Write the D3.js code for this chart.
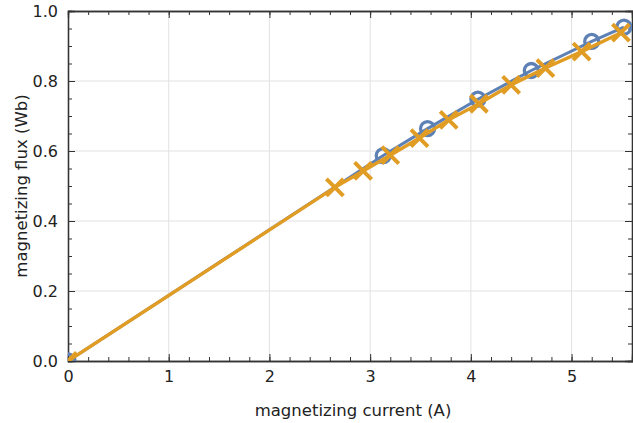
<!DOCTYPE html>
<html>
<head>
<meta charset="utf-8">
<script src="https://cdn.jsdelivr.net/npm/d3@7"></script>
<style>
  body { margin: 0; background: #fff; }
  svg { display: block; font-family: "DejaVu Sans", sans-serif; }
</style>
</head>
<body>
<div id="chart"></div>
<script>
var width = 633,
    height = 423;

var margin = {left: 68, right: 1, top: 11, bottom: 62};

// measured points (blue circles)
var circleX = [0, 3.13, 3.57, 4.07, 4.60, 5.20, 5.52];
var circleY = [0, 0.587, 0.664, 0.748, 0.830, 0.913, 0.954];

// computed points (orange crosses)
var crossX = [0, 2.65, 2.93, 3.20, 3.49, 3.78, 4.08, 4.40, 4.74, 5.10, 5.49];
var crossY = [0, 0.496, 0.543, 0.588, 0.637, 0.689, 0.735, 0.789, 0.837, 0.884, 0.938];

var xTicks = [0, 1, 2, 3, 4, 5];
var yTicks = [0, 0.2, 0.4, 0.6, 0.8, 1.0];

var blue = "#5e81b5",
    orange = "#e19c24";

var x = d3.scaleLinear()
  .domain([0, 5.6])
  .range([margin.left, width - margin.right]);

var y = d3.scaleLinear()
  .domain([0, 1])
  .range([height - margin.bottom, margin.top]);

var svg = d3.select("#chart").append("svg")
  .attr("width", width)
  .attr("height", height);

svg.append("defs").append("clipPath")
  .attr("id", "clip")
  .append("rect")
  .attr("x", x(0))
  .attr("y", y(1))
  .attr("width", x(5.6) - x(0))
  .attr("height", y(0) - y(1));

// grid lines
svg.append("g")
  .selectAll("line")
  .data(xTicks.slice(1))
  .enter().append("line")
  .attr("x1", function(d){ return x(d); })
  .attr("x2", function(d){ return x(d); })
  .attr("y1", y(0))
  .attr("y2", y(1))
  .style("stroke", "#e2e2e2")
  .style("stroke-width", 1);

svg.append("g")
  .selectAll("line")
  .data(yTicks.slice(1, -1))
  .enter().append("line")
  .attr("y1", function(d){ return y(d); })
  .attr("y2", function(d){ return y(d); })
  .attr("x1", x(0))
  .attr("x2", x(5.6))
  .style("stroke", "#e2e2e2")
  .style("stroke-width", 1);

// frame axes, ticks pointing inward
var xMinor = d3.range(0, 5.61, 0.2);
var yMinor = d3.range(0, 1.001, 0.05);

var bottomAxis = d3.axisBottom(x).tickValues(xTicks).tickSize(-7).tickPadding(10)
  .tickFormat(d3.format("d"));
var topAxis = d3.axisTop(x).tickValues(xTicks).tickSize(-7).tickFormat("");
var leftAxis = d3.axisLeft(y).tickValues(yTicks).tickSize(-7).tickPadding(10)
  .tickFormat(d3.format(".1f"));
var rightAxis = d3.axisRight(y).tickValues(yTicks).tickSize(-7).tickFormat("");

function minor(axis, vals) {
  return axis.tickValues(vals).tickSize(-4).tickFormat("");
}

var axes = [
  [minor(d3.axisBottom(x), xMinor), "translate(0," + y(0) + ")"],
  [minor(d3.axisTop(x), xMinor), "translate(0," + y(1) + ")"],
  [minor(d3.axisLeft(y), yMinor), "translate(" + x(0) + ",0)"],
  [minor(d3.axisRight(y), yMinor), "translate(" + x(5.6) + ",0)"],
  [bottomAxis, "translate(0," + y(0) + ")"],
  [topAxis, "translate(0," + y(1) + ")"],
  [leftAxis, "translate(" + x(0) + ",0)"],
  [rightAxis, "translate(" + x(5.6) + ",0)"]
];

axes.forEach(function(a){
  var g = svg.append("g")
    .attr("transform", a[1])
    .call(a[0]);
  g.select(".domain").style("stroke", "#333").style("stroke-width", 1.3);
  g.selectAll(".tick line").style("stroke", "#333").style("stroke-width", 1);
  g.selectAll(".tick text")
    .style("font-size", "16px")
    .style("fill", "#222")
    .style("font-family", "'DejaVu Sans', sans-serif");
});

// data
var plot = svg.append("g").attr("clip-path", "url(#clip)");

var line = d3.line()
  .x(function(d){ return x(d[0]); })
  .y(function(d){ return y(d[1]); });

var circles = d3.zip(circleX, circleY);
var crosses = d3.zip(crossX, crossY);

plot.append("path")
  .datum(circles)
  .attr("d", line)
  .style("fill", "none")
  .style("stroke", blue)
  .style("stroke-width", 3);

plot.selectAll("circle")
  .data(circles)
  .enter().append("circle")
  .attr("cx", function(d){ return x(d[0]); })
  .attr("cy", function(d){ return y(d[1]); })
  .attr("r", 7)
  .style("fill", "none")
  .style("stroke", blue)
  .style("stroke-width", 3.3);

plot.append("path")
  .datum(crosses)
  .attr("d", line)
  .style("fill", "none")
  .style("stroke", orange)
  .style("stroke-width", 3.4);

var s = 8.5;
plot.selectAll("path.cross")
  .data(crosses)
  .enter().append("path")
  .attr("class", "cross")
  .attr("d", function(d){
    var cx = x(d[0]), cy = y(d[1]);
    return "M" + (cx - s) + "," + (cy - s) + "L" + (cx + s) + "," + (cy + s) +
           "M" + (cx - s) + "," + (cy + s) + "L" + (cx + s) + "," + (cy - s);
  })
  .style("fill", "none")
  .style("stroke", orange)
  .style("stroke-width", 4);

// axis titles
svg.append("text")
  .attr("x", (x(0) + x(5.6)) / 2 + 3)
  .attr("y", 416)
  .attr("text-anchor", "middle")
  .style("font-size", "16.5px")
  .style("fill", "#222")
  .text("magnetizing current (A)");

svg.append("text")
  .attr("transform", "translate(27," + y(0.5) + ") rotate(-90)")
  .attr("text-anchor", "middle")
  .style("font-size", "16.5px")
  .style("fill", "#222")
  .text("magnetizing flux (Wb)");
</script>
</body>
</html>
